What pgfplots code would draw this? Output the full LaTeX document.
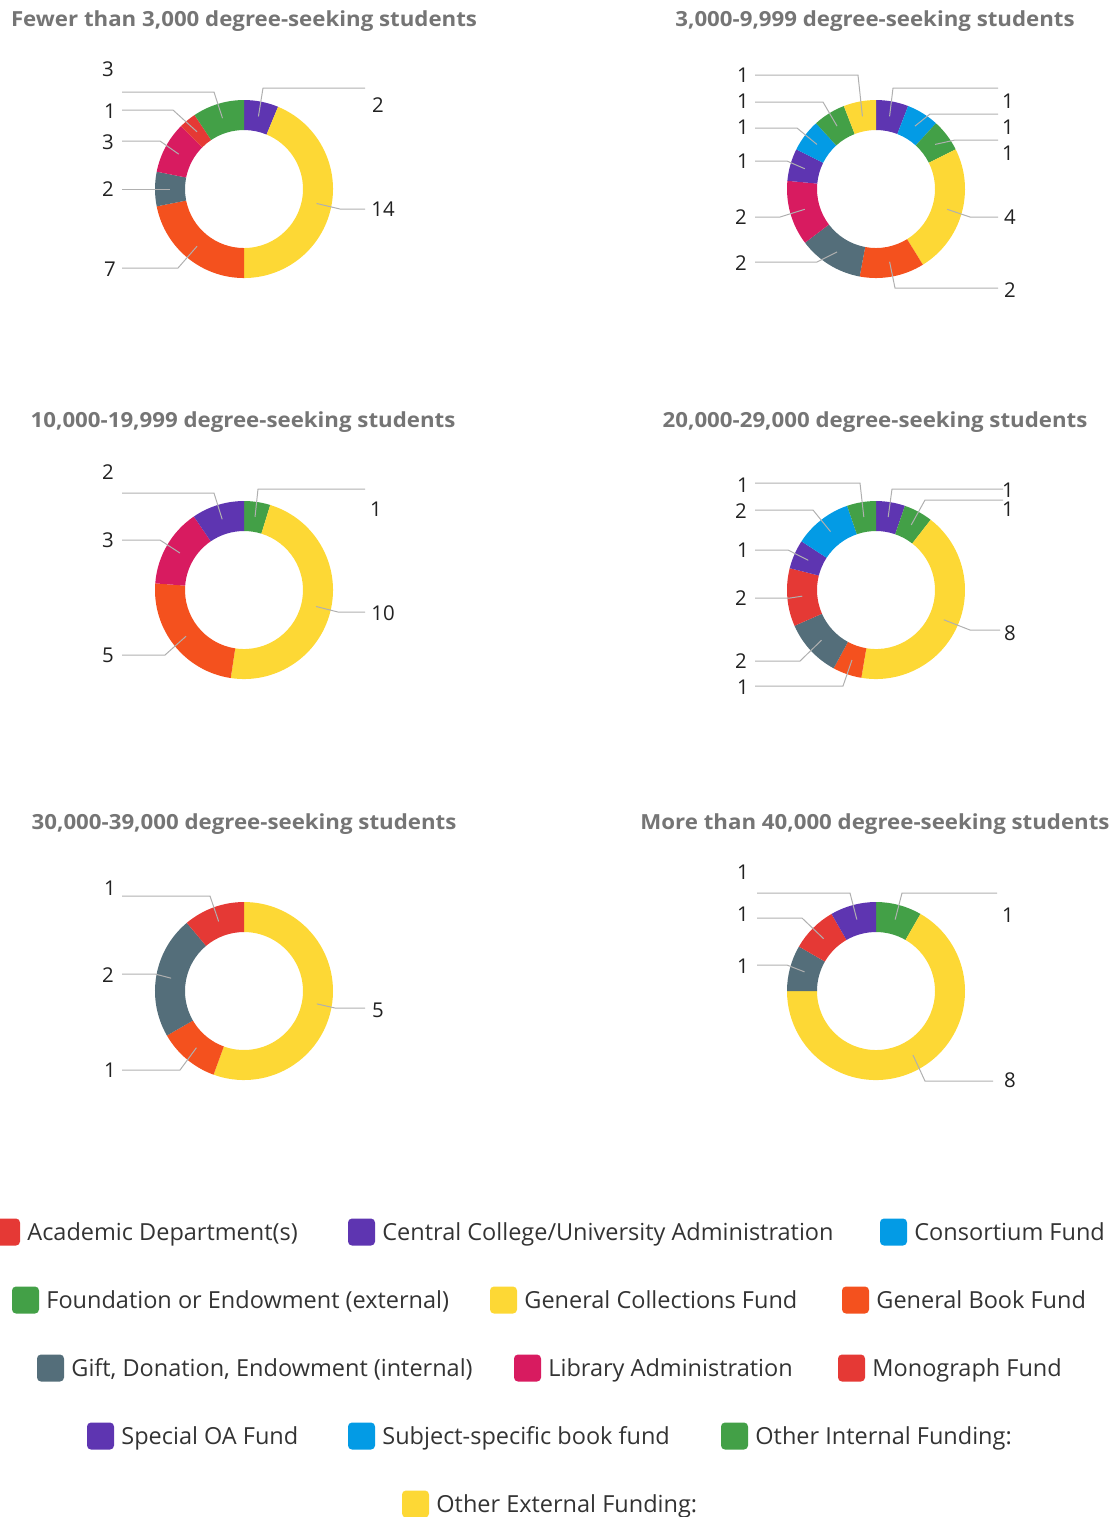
\documentclass[border=0pt]{standalone}
\usepackage{pgfplots}
\pgfplotsset{compat=1.18}
\usepackage{pgfplotstable}
\usepackage{fontspec}
\setmainfont{Open Sans}
\definecolor{cRed}{HTML}{E53935}
\definecolor{cPurple}{HTML}{5E35B1}
\definecolor{cBlue}{HTML}{039BE5}
\definecolor{cGreen}{HTML}{43A047}
\definecolor{cYellow}{HTML}{FDD835}
\definecolor{cOrange}{HTML}{F4511E}
\definecolor{cSlate}{HTML}{546E7A}
\definecolor{cPink}{HTML}{D81B60}
\definecolor{titleGray}{HTML}{757575}
\definecolor{labelColor}{HTML}{212121}
\definecolor{legColor}{HTML}{333333}
\definecolor{lineGray}{HTML}{B0B0B0}

\tikzset{
  leader/.style={draw=lineGray, line width=0.5pt},
  lbl/.style={font=\fontsize{10.2}{12}\selectfont, text=labelColor, inner sep=0pt, text height=7.3pt, text depth=0pt},
  ttl/.style={font=\fontsize{10.4}{12}\selectfont\bfseries, text=titleGray, inner sep=0pt, text height=7.4pt, text depth=0pt, xscale=1.07, transform shape},
  leg/.style={font=\fontsize{11.75}{14}\selectfont, text=legColor, inner sep=0pt, text height=8.4pt, text depth=0pt},
}

% cat value color label-x label-y line-y line-start-x elbow-x
\pgfplotstableread{
cat value color lx ly lyo xo xe
Central 2 cPurple 378 105 88 365 263
GenColl 14 cYellow 383 209 209 365 340
GenBook 7 cOrange 110 269 268 122 178
Gift 2 cSlate 108 189 189 122 160
LibAdmin 3 cPink 108 142 141 122 160
Monograph 1 cRed 110 111 110 122 173
OtherInt 3 cGreen 108 69 92 122 214
}\tabA
\pgfplotstableread{
cat value color lx ly lyo xo xe
Central 1 cPurple 1008 101 88 998 893
Consortium 1 cBlue 1008 127 114 998 930
Foundation 1 cGreen 1008 153 140 998 955
GenColl 4 cYellow 1010 217 217 998 970
GenBook 2 cOrange 1010 290 288 998 895
Gift 2 cSlate 741 263 262 755 817
LibAdmin 2 cPink 741 217 217 755 780
SpecialOA 1 cPurple 743 161 161 755 787
Subject 1 cBlue 743 127 128 755 797
OtherInt 1 cGreen 743 101 102 755 823
OtherExt 1 cYellow 743 75 75 755 858
}\tabB
\pgfplotstableread{
cat value color lx ly lyo xo xe
Foundation 1 cGreen 376 509 489 365 258
GenColl 10 cYellow 383 613 612 365 338
GenBook 5 cOrange 108 655 655 122 165
LibAdmin 3 cPink 108 540 540 122 160
SpecialOA 2 cPurple 108 472 493 122 214
}\tabC
\pgfplotstableread{
cat value color lx ly lyo xo xe
Central 1 cPurple 1008 490 489 1003 892
Foundation 1 cGreen 1008 509 500 1003 925
GenColl 8 cYellow 1010 633 630 1000 970
GenBook 1 cOrange 743 687 686 755 843
Gift 2 cSlate 741 661 661 755 800
Monograph 2 cRed 741 598 598 755 790
SpecialOA 1 cPurple 743 550 550 755 788
Subject 2 cBlue 741 511 510 755 813
OtherInt 1 cGreen 743 485 483 755 860
}\tabD
\pgfplotstableread{
cat value color lx ly lyo xo xe
GenColl 5 cYellow 378 1010 1008 365 335
GenBook 1 cOrange 110 1070 1070 122 180
Gift 2 cSlate 108 975 974 122 155
Monograph 1 cRed 110 888 896 122 210
}\tabE
\pgfplotstableread{
cat value color lx ly lyo xo xe
Foundation 1 cGreen 1008 915 893 997 902
GenColl 8 cYellow 1010 1080 1081 993 925
Gift 1 cSlate 743 966 965 757 787
Monograph 1 cRed 743 914 918 757 802
SpecialOA 1 cPurple 743 872 893 757 850
}\tabF

\def\Ro{44.5pt}
\def\Ri{29.5pt}
\def\Rm{37pt}

\newcommand\donut[3]{%
  \pgfplotstablegetrowsof{#1}%
  \pgfmathtruncatemacro\nlast{\pgfplotsretval-1}%
  \gdef\dtot{0}%
  \foreach \i in {0,...,\nlast}{%
    \pgfplotstablegetelem{\i}{value}\of{#1}%
    \pgfmathsetmacro\tmpa{\dtot+\pgfplotsretval}\xdef\dtot{\tmpa}}%
  \gdef\dcum{0}%
  \foreach \i in {0,...,\nlast}{%
    \pgfplotstablegetelem{\i}{value}\of{#1}\let\dv\pgfplotsretval
    \pgfplotstablegetelem{\i}{color}\of{#1}\let\dc\pgfplotsretval
    \pgfplotstablegetelem{\i}{lx}\of{#1}\let\dlx\pgfplotsretval
    \pgfplotstablegetelem{\i}{ly}\of{#1}\let\dly\pgfplotsretval
    \pgfplotstablegetelem{\i}{lyo}\of{#1}\let\dlyo\pgfplotsretval
    \pgfplotstablegetelem{\i}{xo}\of{#1}\let\dxo\pgfplotsretval
    \pgfplotstablegetelem{\i}{xe}\of{#1}\let\dxe\pgfplotsretval
    \pgfmathsetmacro\aS{90-360*\dcum/\dtot}%
    \pgfmathsetmacro\aE{90-360*(\dcum+\dv)/\dtot}%
    \pgfmathsetmacro\aM{(\aS+\aE)/2}%
    \edef\tmp{%
      \noexpand\fill[\dc,shift={(axis cs:#2,#3)}] (\aS:\Ro) arc[start angle=\aS,end angle=\aE,radius=\Ro] -- (\aE:\Ri) arc[start angle=\aE,end angle=\aS,radius=\Ri] -- cycle;
      \noexpand\draw[leader] (axis cs:\dxo,\dlyo) -- (axis cs:\dxe,\dlyo) -- ([shift={(\aM:\Rm)}]axis cs:#2,#3);
      \noexpand\node[lbl] at (axis cs:\dlx,\dly) {\dv};}%
    \tmp
    \pgfmathsetmacro\tmpa{\dcum+\dv}\xdef\dcum{\tmpa}}%
}

\newcommand\legitem[4]{%
  \pgfmathsetmacro\lxa{#1}\pgfmathsetmacro\lxb{#1+27}\pgfmathsetmacro\lxt{#1+34}%
  \pgfmathsetmacro\lya{#2-13.5}\pgfmathsetmacro\lyb{#2+13.5}%
  \edef\tmp{%
    \noexpand\fill[#3, rounded corners=2pt] (axis cs:\lxa,\lya) rectangle (axis cs:\lxb,\lyb);
    \noexpand\node[leg, anchor=west] at (axis cs:\lxt,#2) {#4};}%
  \tmp}

\begin{document}
\begin{tikzpicture}
\begin{axis}[name=ax, at={(0,0)}, anchor=north west,
  x=0.5pt, y=0.5pt, xmin=0, xmax=1119, ymin=0, ymax=1517,
  y dir=reverse, hide axis, clip=false]

\node[ttl] at (axis cs:244,19) {Fewer than 3,000 degree-seeking students};
\node[ttl] at (axis cs:875,19) {3,000-9,999 degree-seeking students};
\node[ttl] at (axis cs:243,420) {10,000-19,999 degree-seeking students};
\node[ttl] at (axis cs:875,420) {20,000-29,000 degree-seeking students};
\node[ttl] at (axis cs:244,822) {30,000-39,000 degree-seeking students};
\node[ttl] at (axis cs:875,822) {More than 40,000 degree-seeking students};

\donut{\tabA}{244}{189}
\donut{\tabB}{876}{189}
\donut{\tabC}{244}{590}
\donut{\tabD}{876}{590}
\donut{\tabE}{244}{991}
\donut{\tabF}{876}{991}

\legitem{-7}{1232}{cRed}{Academic Department(s)}
\legitem{348}{1232}{cPurple}{Central College/University Administration}
\legitem{880}{1232}{cBlue}{Consortium Fund}
\legitem{12}{1300}{cGreen}{Foundation or Endowment (external)}
\legitem{490}{1300}{cYellow}{General Collections Fund}
\legitem{842}{1300}{cOrange}{General Book Fund}
\legitem{37}{1368}{cSlate}{Gift, Donation, Endowment (internal)}
\legitem{514}{1368}{cPink}{Library Administration}
\legitem{838}{1368}{cRed}{Monograph Fund}
\legitem{87}{1436}{cPurple}{Special OA Fund}
\legitem{348}{1436}{cBlue}{Subject-specific book fund}
\legitem{721}{1436}{cGreen}{Other Internal Funding:}
\legitem{402}{1504}{cYellow}{Other External Funding:}
\end{axis}
\pgfresetboundingbox
\path[use as bounding box] (ax.north west) rectangle (ax.south east);
\end{tikzpicture}
\end{document}
